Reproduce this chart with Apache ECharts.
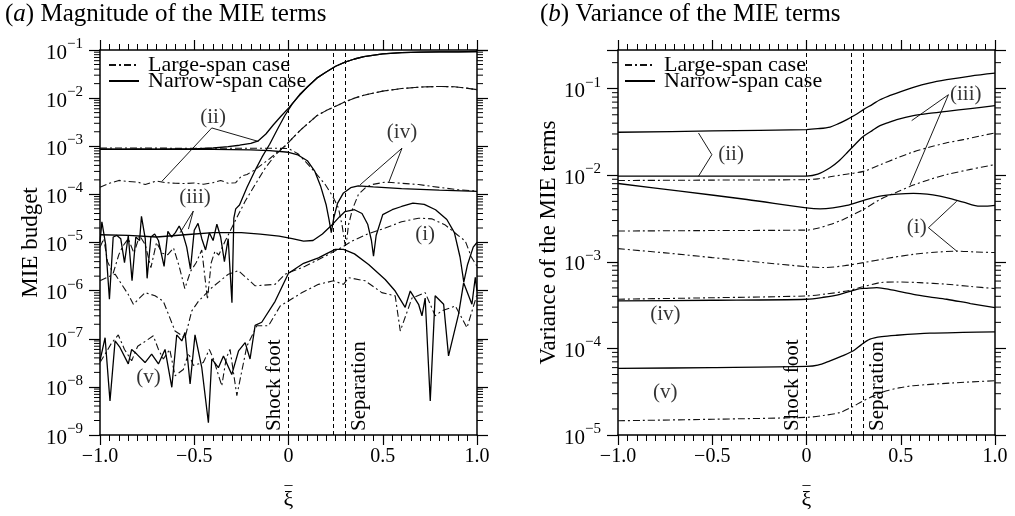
<!DOCTYPE html>
<html><head><meta charset="utf-8">
<script src="https://cdn.jsdelivr.net/npm/echarts@6/dist/echarts.min.js"></script>
<style>html,body{margin:0;padding:0;background:#fff}#c{width:1015px;height:516px}</style>
</head><body><div id="c"></div><script>
// ---------- tick labels / markers ----------
const xTickValues = [-1, -0.5, 0, 0.5, 1];
const xTickText = ['\u22121.0', '\u22120.5', '0', '0.5', '1.0'];
const markerX = [0, 0.24, 0.3];
const markerText = ['Shock foot', '', 'Separation'];
const legendNames = ['Large-span case', 'Narrow-span case'];

// ---------- (a) magnitude, narrow-span (solid) ----------
const magNarrowII = [[-1,8.8e-4],[-0.9,8.7e-4],[-0.8,8.8e-4],[-0.7,8.7e-4],[-0.6,8.8e-4],[-0.5,8.8e-4],[-0.4,9.2e-4],[-0.32,9.8e-4],[-0.26,1.05e-3],[-0.2,1.15e-3],[-0.16,1.3e-3],[-0.12,1.8e-3],[-0.08,2.8e-3],[-0.04,4.2e-3],[0,6.2e-3],[0.05,1.05e-2],[0.1,1.7e-2],[0.15,2.6e-2],[0.2,3.5e-2],[0.25,4.6e-2],[0.3,5.6e-2],[0.35,6.5e-2],[0.4,7.3e-2],[0.5,8.3e-2],[0.6,8.8e-2],[0.7,9.0e-2],[0.8,9.1e-2],[0.9,9.15e-2],[1,9.3e-2]];
const magNarrowIII = [[-1,1.0e-5],[-0.99,2.7e-5],[-0.97,9e-6],[-0.95,6.6e-7],[-0.93,1.3e-5],[-0.91,1.4e-5],[-0.89,1.2e-5],[-0.87,3.8e-6],[-0.85,1.4e-5],[-0.83,1.6e-6],[-0.81,1.3e-5],[-0.79,1.1e-5],[-0.78,3.5e-5],[-0.76,1.2e-5],[-0.75,1.8e-6],[-0.73,1.3e-5],[-0.71,1.5e-5],[-0.69,1.1e-5],[-0.66,3.2e-6],[-0.64,1.7e-5],[-0.62,1.3e-5],[-0.6,1.6e-5],[-0.58,2.2e-5],[-0.56,1.5e-5],[-0.54,8e-6],[-0.52,2.8e-6],[-0.5,1.8e-5],[-0.48,2.5e-5],[-0.46,1.2e-5],[-0.44,7e-6],[-0.42,1.6e-5],[-0.4,1.1e-5],[-0.38,2.4e-5],[-0.36,1.3e-5],[-0.34,4e-6],[-0.32,1.2e-5],[-0.3,5.6e-7],[-0.29,3.2e-5],[-0.28,5e-5],[-0.26,6e-5],[-0.22,1.4e-4],[-0.18,3e-4],[-0.14,6e-4],[-0.1,1.1e-3],[-0.06,2.2e-3],[-0.02,4.3e-3],[0.02,7.6e-3],[0.06,1.2e-2],[0.1,1.7e-2],[0.15,2.6e-2],[0.2,3.5e-2],[0.25,4.6e-2],[0.3,5.6e-2],[0.35,6.5e-2],[0.4,7.3e-2],[0.5,8.3e-2],[0.6,8.8e-2],[0.7,9.0e-2],[0.8,9.1e-2],[0.9,9.15e-2],[1,9.3e-2]];
const magNarrowIV = [[-1,8.6e-4],[-0.8,8.6e-4],[-0.6,8.6e-4],[-0.4,8.6e-4],[-0.2,8.4e-4],[-0.1,8.1e-4],[0,7.5e-4],[0.05,6.6e-4],[0.1,5e-4],[0.14,3e-4],[0.17,1.5e-4],[0.2,6e-5],[0.215,3e-5],[0.227,1.6e-5],[0.24,3.2e-5],[0.26,6.5e-5],[0.29,1.05e-4],[0.33,1.38e-4],[0.37,1.5e-4],[0.45,1.43e-4],[0.6,1.32e-4],[0.8,1.22e-4],[1,1.15e-4]];
const magNarrowI = [[-1,1.45e-5],[-0.85,1.4e-5],[-0.7,1.3e-5],[-0.55,1.45e-5],[-0.4,1.6e-5],[-0.25,1.6e-5],[-0.15,1.5e-5],[-0.05,1.35e-5],[0.02,1.2e-5],[0.08,1.07e-5],[0.13,1.1e-5],[0.18,1.5e-5],[0.23,2.3e-5],[0.27,3.4e-5],[0.3,4.4e-5],[0.35,4.8e-5],[0.39,4e-5],[0.42,2.4e-5],[0.44,1.1e-5],[0.451,5.2e-6],[0.465,1.4e-5],[0.5,3.8e-5],[0.55,4.8e-5],[0.6,5.6e-5],[0.66,6.6e-5],[0.72,6.2e-5],[0.78,4.8e-5],[0.84,3e-5],[0.88,1.6e-5],[0.91,5e-6],[0.93,1.5e-6],[0.95,3.5e-6],[0.98,8e-6],[1,1e-5]];
const magNarrowV = [[-1,3.5e-8],[-0.973,1.05e-7],[-0.947,5.1e-9],[-0.92,9e-8],[-0.894,6.6e-8],[-0.85,3e-8],[-0.832,6e-8],[-0.805,4.8e-8],[-0.761,3.2e-8],[-0.726,4.8e-8],[-0.69,3e-8],[-0.655,6e-8],[-0.619,9.8e-9],[-0.593,1.2e-7],[-0.566,9e-8],[-0.549,1.35e-7],[-0.522,1.15e-8],[-0.496,1.2e-7],[-0.46,2.5e-8],[-0.425,1.8e-9],[-0.407,3.8e-8],[-0.372,2.5e-8],[-0.345,4.4e-8],[-0.301,1.8e-8],[-0.265,5.6e-8],[-0.23,8.3e-8],[-0.204,3.8e-8],[-0.177,1.9e-7],[-0.142,2.2e-7],[-0.071,6e-7],[0,2.3e-6],[0.08,3.7e-6],[0.159,4.8e-6],[0.2,5.8e-6],[0.248,7.2e-6],[0.292,7.2e-6],[0.35,5.8e-6],[0.425,3.5e-6],[0.513,1.7e-6],[0.566,9.8e-7],[0.619,4.5e-7],[0.646,9.8e-7],[0.69,5.2e-7],[0.708,3e-7],[0.725,7e-7],[0.752,5.1e-9],[0.778,7.8e-7],[0.823,5.2e-7],[0.849,4.4e-8],[0.902,3.2e-7],[0.929,1.45e-6],[0.973,5.2e-7],[0.991,1.9e-6],[1,9.8e-7]];

// ---------- (a) magnitude, large-span (dash-dot) ----------
const magLargeII = [[-1,1.4e-4],[-0.95,1.7e-4],[-0.9,1.95e-4],[-0.85,1.85e-4],[-0.8,1.8e-4],[-0.76,1.6e-4],[-0.7,1.9e-4],[-0.65,1.75e-4],[-0.6,1.7e-4],[-0.55,1.68e-4],[-0.5,1.72e-4],[-0.45,1.62e-4],[-0.4,1.75e-4],[-0.36,1.95e-4],[-0.32,1.7e-4],[-0.28,1.75e-4],[-0.25,2.4e-4],[-0.22,2.6e-4],[-0.18,3.2e-4],[-0.14,4.2e-4],[-0.1,5.5e-4],[-0.06,7.5e-4],[-0.02,1.0e-3],[0.02,1.45e-3],[0.06,2.1e-3],[0.1,2.9e-3],[0.15,4.3e-3],[0.2,5.5e-3],[0.25,6.8e-3],[0.3,8.4e-3],[0.35,1.0e-2],[0.4,1.15e-2],[0.5,1.4e-2],[0.6,1.58e-2],[0.7,1.7e-2],[0.8,1.75e-2],[0.88,1.72e-2],[0.94,1.62e-2],[1,1.5e-2]];
const magLargeIII = [[-1,8e-6],[-0.98,1.2e-5],[-0.96,4e-6],[-0.93,2.3e-6],[-0.9,5.6e-6],[-0.88,8.3e-6],[-0.85,1.2e-5],[-0.82,6e-6],[-0.79,1.4e-5],[-0.76,9e-6],[-0.73,3e-6],[-0.7,1e-5],[-0.67,6e-6],[-0.64,5.6e-6],[-0.61,7.7e-6],[-0.58,3.2e-6],[-0.55,1.1e-6],[-0.52,2.5e-6],[-0.49,3.8e-6],[-0.46,7e-6],[-0.43,6.6e-7],[-0.41,3.8e-6],[-0.39,6.6e-6],[-0.37,5.5e-6],[-0.336,1.07e-5],[-0.283,2.8e-5],[-0.23,7.2e-5],[-0.177,1.6e-4],[-0.124,3.5e-4],[-0.07,6.6e-4],[-0.02,1.0e-3],[0.02,1.45e-3],[0.06,2.1e-3],[0.1,2.9e-3],[0.15,4.3e-3],[0.2,5.5e-3],[0.25,6.8e-3],[0.3,8.4e-3],[0.35,1.0e-2],[0.4,1.15e-2],[0.5,1.4e-2],[0.6,1.58e-2],[0.7,1.7e-2],[0.8,1.75e-2],[0.88,1.72e-2],[0.94,1.62e-2],[1,1.5e-2]];
const magLargeIV = [[-1,9.2e-4],[-0.8,9.2e-4],[-0.6,9.1e-4],[-0.4,9.1e-4],[-0.2,9.1e-4],[-0.1,9.1e-4],[0,9e-4],[0.05,7e-4],[0.088,4.9e-4],[0.14,2.9e-4],[0.195,1.6e-4],[0.235,9e-5],[0.265,5.2e-5],[0.285,2.2e-5],[0.3,9e-6],[0.31,1.2e-5],[0.318,2.3e-5],[0.34,5e-5],[0.371,1e-4],[0.41,1.4e-4],[0.443,1.6e-4],[0.513,1.8e-4],[0.6,1.7e-4],[0.69,1.6e-4],[0.8,1.4e-4],[0.9,1.25e-4],[1,1.17e-4]];
const magLargeI = [[-1,1.6e-6],[-0.96,1.9e-6],[-0.92,2.2e-6],[-0.85,8.3e-7],[-0.823,5.2e-7],[-0.761,9.1e-7],[-0.708,7.8e-7],[-0.664,6e-7],[-0.602,1.45e-7],[-0.549,1.05e-7],[-0.513,3.8e-7],[-0.478,6e-7],[-0.407,1.15e-6],[-0.319,2.2e-6],[-0.266,2.6e-6],[-0.177,1.26e-6],[-0.071,1.35e-6],[-0.018,2.2e-6],[0.088,3.2e-6],[0.195,5.2e-6],[0.292,8.3e-6],[0.336,1.07e-5],[0.42,1.5e-5],[0.513,2e-5],[0.6,2.7e-5],[0.69,3.2e-5],[0.76,3.1e-5],[0.832,2.3e-5],[0.9,1.4e-5],[0.938,1.07e-5],[0.97,5e-6],[1,3.2e-6]];
const magLargeV = [[-1,3.2e-8],[-0.97,5e-8],[-0.94,8e-8],[-0.903,1.2e-7],[-0.87,6e-8],[-0.832,3.5e-8],[-0.8,7e-8],[-0.77,8.3e-8],[-0.717,1.15e-7],[-0.69,6e-8],[-0.664,3.8e-8],[-0.63,6e-8],[-0.602,1.7e-8],[-0.558,2.3e-8],[-0.53,5e-8],[-0.505,2.8e-8],[-0.452,3.2e-8],[-0.42,6e-8],[-0.398,3.8e-8],[-0.354,1.05e-8],[-0.33,4e-8],[-0.31,6e-8],[-0.274,6.6e-9],[-0.221,7e-8],[-0.168,1.86e-7],[-0.106,1.86e-7],[-0.044,4.8e-7],[0.07,9e-7],[0.159,1.35e-6],[0.239,1.6e-6],[0.292,1.35e-6],[0.318,1.86e-6],[0.407,1.6e-6],[0.495,9.1e-7],[0.566,7.8e-7],[0.593,1.45e-7],[0.655,7e-7],[0.725,9.1e-7],[0.778,3e-7],[0.814,3.8e-7],[0.885,4.8e-7],[0.947,1.7e-7],[1,8.3e-7]];

// ---------- (b) variance ----------
const varNarrowII = [[-1,3.14e-2],[-0.5,3.25e-2],[0,3.37e-2],[0.06,3.45e-2],[0.125,3.61e-2],[0.17,3.95e-2],[0.214,4.4e-2],[0.26,5.0e-2],[0.302,5.73e-2],[0.35,6.6e-2],[0.39,7.46e-2],[0.44,8.3e-2],[0.479,8.91e-2],[0.567,0.1035],[0.65,0.116],[0.744,0.127],[0.87,0.14],[1,0.151]];
const varNarrowIII = [[-1,9.8e-3],[-0.5,9.8e-3],[0,9.8e-3],[0.06,1.03e-2],[0.125,1.22e-2],[0.17,1.45e-2],[0.214,1.81e-2],[0.26,2.3e-2],[0.302,2.82e-2],[0.35,3.3e-2],[0.39,3.74e-2],[0.44,4.1e-2],[0.479,4.4e-2],[0.567,4.89e-2],[0.65,5.2e-2],[0.744,5.48e-2],[0.87,5.9e-2],[1,6.37e-2]];
const varNarrowI = [[-1,8.04e-3],[-0.67,6.56e-3],[-0.316,5.25e-3],[0,4.21e-3],[0.072,4.1e-3],[0.14,4.2e-3],[0.214,4.48e-3],[0.3,5.1e-3],[0.39,5.74e-3],[0.48,6.05e-3],[0.567,6.17e-3],[0.64,6.05e-3],[0.708,5.74e-3],[0.77,5.35e-3],[0.832,4.9e-3],[0.92,4.4e-3],[0.96,4.4e-3],[1,4.48e-3]];
const varNarrowIV = [[-1,3.54e-4],[-0.5,3.6e-4],[0,3.7e-4],[0.09,3.9e-4],[0.178,4.22e-4],[0.267,4.82e-4],[0.32,4.95e-4],[0.373,5.04e-4],[0.45,4.75e-4],[0.567,4.22e-4],[0.65,3.95e-4],[0.744,3.7e-4],[0.87,3.3e-4],[1,2.96e-4]];
const varNarrowV = [[-1,5.87e-5],[-0.5,6.0e-5],[0,6.19e-5],[0.06,6.4e-5],[0.125,7.19e-5],[0.19,8.2e-5],[0.249,9.4e-5],[0.29,1.1e-4],[0.337,1.28e-4],[0.4,1.37e-4],[0.479,1.42e-4],[0.655,1.5e-4],[0.83,1.53e-4],[1,1.55e-4]];
const varLargeII = [[-1,8.7e-3],[-0.5,8.8e-3],[0,8.9e-3],[0.06,9.1e-3],[0.125,9.6e-3],[0.2,1.02e-2],[0.302,1.11e-2],[0.39,1.32e-2],[0.479,1.58e-2],[0.56,1.84e-2],[0.655,2.12e-2],[0.74,2.36e-2],[0.832,2.58e-2],[0.92,2.84e-2],[1,3.08e-2]];
const varLargeIII = [[-1,2.27e-3],[-0.5,2.3e-3],[0,2.33e-3],[0.06,2.45e-3],[0.125,2.7e-3],[0.19,3.05e-3],[0.249,3.52e-3],[0.302,4.03e-3],[0.39,5.25e-3],[0.48,6.4e-3],[0.567,7.7e-3],[0.65,8.9e-3],[0.744,1.02e-2],[0.87,1.17e-2],[1,1.33e-2]];
const varLargeI = [[-1,1.42e-3],[-0.75,1.27e-3],[-0.5,1.12e-3],[-0.25,9.9e-4],[0,8.8e-4],[0.09,8.6e-4],[0.2,9.0e-4],[0.302,9.8e-4],[0.43,1.1e-3],[0.567,1.22e-3],[0.68,1.29e-3],[0.797,1.33e-3],[0.9,1.3e-3],[1,1.28e-3]];
const varLargeIV = [[-1,3.7e-4],[-0.5,3.85e-4],[0,4.04e-4],[0.1,4.25e-4],[0.214,4.61e-4],[0.3,5.15e-4],[0.39,5.75e-4],[0.479,5.86e-4],[0.6,5.75e-4],[0.744,5.51e-4],[0.87,5.2e-4],[1,4.91e-4]];
const varLargeV = [[-1,1.46e-5],[-0.5,1.52e-5],[0,1.6e-5],[0.09,1.68e-5],[0.178,1.82e-5],[0.24,2.1e-5],[0.302,2.49e-5],[0.36,2.85e-5],[0.426,3.24e-5],[0.49,3.5e-5],[0.567,3.71e-5],[0.78,4.0e-5],[1,4.23e-5]];

// ---------- annotations (label text, position in data units) ----------
const magNotes = [{t:'(ii)', x:-0.40, y:3.9e-3},{t:'(iii)', x:-0.496, y:8.5e-5},{t:'(iv)', x:0.602, y:1.9e-3},{t:'(i)', x:0.725, y:1.45e-5},{t:'(v)', x:-0.743, y:1.6e-8}];
const magLeaders = [
  [[-0.672,1.86e-4],[-0.407,2.4e-3],[-0.16,1.26e-3]],
  [[-0.575,1.6e-5],[-0.505,4.5e-5],[-0.531,1.9e-5]],
  [[0.38,1.58e-4],[0.602,9.1e-4],[0.531,1.74e-4]]
];
const varNotes = [{t:'(ii)', x:-0.40, y:1.73e-2},{t:'(iii)', x:0.845, y:8.5e-2},{t:'(i)', x:0.585, y:2.48e-3},{t:'(iv)', x:-0.749, y:2.48e-4},{t:'(v)', x:-0.749, y:3.1e-5}];
const varLeaders = [
  [[-0.573,3.08e-2],[-0.502,1.73e-2],[-0.573,9.75e-3]],
  [[0.558,4.28e-2],[0.753,8.53e-2],[0.549,7.7e-3]],
  [[0.797,5.02e-3],[0.647,2.48e-3],[0.797,1.33e-3]]
];

// ---------- styling ----------
const FONT = "'Liberation Serif','Times New Roman',serif";
const DASHDOT = [7, 3, 2, 3];

function curve(name, data, panel, dashed) {
  return {
    type: 'line', name: name, data: data,
    xAxisIndex: panel * 2, yAxisIndex: panel * 2,
    symbol: 'none', showSymbol: false, silent: true,
    smooth: panel === 1 ? 0.3 : false,
    itemStyle: { color: dashed ? '#111' : '#000' },
    lineStyle: { color: dashed ? '#111' : '#000', width: dashed ? 1.1 : 1.3, type: dashed ? DASHDOT : 'solid' },
    z: 3
  };
}
function markerSeries(panel) {
  return {
    type: 'line', data: [], xAxisIndex: panel * 2, yAxisIndex: panel * 2, silent: true,
    markLine: {
      symbol: 'none', silent: true, animation: false,
      lineStyle: { type: [4, 3], color: '#000', width: 1 },
      data: markerX.map((x, i) => ({
        xAxis: x,
        label: {
          show: markerText[i] !== '', formatter: markerText[i],
          position: i === 0 ? 'insideStartTop' : 'insideStartBottom',
          fontFamily: FONT, fontSize: 21, color: '#000', distance: [4, 4]
        }
      }))
    }
  };
}
function notesSeries(notes, panel) {
  return {
    type: 'scatter', xAxisIndex: panel * 2, yAxisIndex: panel * 2, silent: true,
    symbolSize: 0,
    data: notes.map(n => ({ name: n.t, value: [n.x, n.y] })),
    label: { show: true, position: 'inside', formatter: '{b}', fontFamily: FONT, fontSize: 21, color: '#000' },
    z: 5
  };
}
function leaderSeries(leaders, panel) {
  return {
    type: 'lines', coordinateSystem: 'cartesian2d', polyline: true,
    xAxisIndex: panel * 2, yAxisIndex: panel * 2, silent: true,
    data: leaders.map(c => ({ coords: c })),
    lineStyle: { color: '#000', width: 0.9, opacity: 1 },
    z: 4
  };
}
function minorTicks(minExp, maxVal, panel) {
  const vals = [];
  for (let e = minExp; ; e++) {
    let done = false;
    for (let k = 2; k <= 9; k++) {
      const v = k * Math.pow(10, e);
      if (v >= maxVal) { done = true; break; }
      vals.push([-1, v]);
    }
    if (done) break;
  }
  return {
    type: 'custom', xAxisIndex: panel * 2, yAxisIndex: panel * 2, silent: true, clip: false,
    data: vals,
    renderItem: function (params, api) {
      const v = api.value(1);
      const a = api.coord([-1, v]);
      const b = api.coord([1, v]);
      return { type: 'group', children: [
        { type: 'line', shape: { x1: a[0] - 6, y1: a[1], x2: a[0], y2: a[1] }, style: { stroke: '#000', lineWidth: 1 } },
        { type: 'line', shape: { x1: b[0], y1: b[1], x2: b[0] + 6, y2: b[1] }, style: { stroke: '#000', lineWidth: 1 } }
      ]};
    }
  };
}
function xAx(grid, pos) {
  const bottom = pos === 'bottom';
  return {
    type: 'value', gridIndex: grid, position: pos, min: -1, max: 1, interval: 0.5,
    axisLine: { show: true, onZero: false, lineStyle: { color: '#000', width: 1.5 } },
    axisTick: { show: true, inside: false, length: 10, lineStyle: { color: '#000', width: 1.2 } },
    minorTick: { show: true, splitNumber: 10, length: 6, lineStyle: { color: '#000', width: 1 } },
    splitLine: { show: false }, minorSplitLine: { show: false },
    axisLabel: { show: bottom, margin: 12, fontFamily: FONT, fontSize: 20, color: '#000',
      formatter: v => { const i = xTickValues.findIndex(t => Math.abs(t - v) < 1e-9); return i < 0 ? '' : xTickText[i]; } },
    name: bottom ? '{bar|\u2013}\n{xi|\u03be}' : '',
    nameLocation: 'middle', nameGap: 46,
    nameTextStyle: { fontFamily: FONT, color: '#000', align: 'center',
      rich: { bar: { fontSize: 16, lineHeight: 8, fontFamily: FONT, align: 'center' }, xi: { fontSize: 22, lineHeight: 22, fontFamily: FONT, align: 'center' } } }
  };
}
function yFmt(v) {
  const l = Math.log10(v);
  const e = Math.round(l);
  if (Math.abs(l - e) > 1e-6) return '';
  return '{b|10}{s|' + (e < 0 ? '\u2212' + (-e) : e) + '}';
}
function yAx(grid, pos, min, max, name, gap) {
  const left = pos === 'left';
  return {
    type: 'log', logBase: 10, gridIndex: grid, position: pos, min: min, max: max,
    axisLine: { show: true, onZero: false, lineStyle: { color: '#000', width: 1.5 } },
    axisTick: { show: true, inside: false, length: 11, lineStyle: { color: '#000', width: 1.2 } },
    minorTick: { show: false }, splitLine: { show: false }, minorSplitLine: { show: false },
    axisLabel: { show: left, margin: 17, formatter: yFmt, color: '#000',
      rich: { b: { fontFamily: FONT, fontSize: 21, lineHeight: 27, verticalAlign: 'bottom' },
              s: { fontFamily: FONT, fontSize: 15, lineHeight: 15, verticalAlign: 'top' } } },
    name: left ? name : '', nameLocation: 'middle', nameGap: gap,
    nameTextStyle: { fontFamily: FONT, fontSize: 23, color: '#000' }
  };
}

const chart = echarts.init(document.getElementById('c'), null, { renderer: 'canvas' });
const legendBase = {
  data: legendNames, orient: 'vertical', itemWidth: 30, itemHeight: 12, itemGap: -6, padding: 0,
  selectedMode: false,
  itemStyle: { opacity: 0 },
  lineStyle: { opacity: 1 },
  textStyle: { fontFamily: FONT, fontSize: 22, color: '#000', lineHeight: 16, padding: [0, 0, 0, 4] }
};
chart.setOption({
  animation: false,
  backgroundColor: '#fff',
  title: [
    { text: '({i|a}) Magnitude of the MIE terms', left: 5, top: 2, padding: 0,
      textStyle: { fontFamily: FONT, fontSize: 25, fontWeight: 'normal', color: '#000',
        rich: { i: { fontFamily: FONT, fontSize: 25, fontStyle: 'italic', color: '#000' } } } },
    { text: '({i|b}) Variance of the MIE terms', left: 540, top: 2, padding: 0,
      textStyle: { fontFamily: FONT, fontSize: 25, fontWeight: 'normal', color: '#000',
        rich: { i: { fontFamily: FONT, fontSize: 25, fontStyle: 'italic', color: '#000' } } } }
  ],
  legend: [
    Object.assign({}, legendBase, { left: 108, top: 54 }),
    Object.assign({}, legendBase, { left: 624, top: 54 })
  ],
  grid: [
    { left: 100, right: 538, top: 50, bottom: 80 },
    { left: 618, right: 20, top: 50, bottom: 80 }
  ],
  xAxis: [xAx(0, 'bottom'), xAx(0, 'top'), xAx(1, 'bottom'), xAx(1, 'top')],
  yAxis: [
    yAx(0, 'left', 1e-9, 1e-1, 'MIE budget', 56),
    yAx(0, 'right', 1e-9, 1e-1, '', 0),
    yAx(1, 'left', 1e-5, 0.28, 'Variance of the MIE terms', 58),
    yAx(1, 'right', 1e-5, 0.28, '', 0)
  ],
  series: [
    markerSeries(0), markerSeries(1),
    curve(legendNames[0], magLargeII, 0, true),
    curve(legendNames[0], magLargeIII, 0, true),
    curve(legendNames[0], magLargeIV, 0, true),
    curve(legendNames[0], magLargeI, 0, true),
    curve(legendNames[0], magLargeV, 0, true),
    curve(legendNames[1], magNarrowII, 0, false),
    curve(legendNames[1], magNarrowIII, 0, false),
    curve(legendNames[1], magNarrowIV, 0, false),
    curve(legendNames[1], magNarrowI, 0, false),
    curve(legendNames[1], magNarrowV, 0, false),
    curve(legendNames[0], varLargeII, 1, true),
    curve(legendNames[0], varLargeIII, 1, true),
    curve(legendNames[0], varLargeI, 1, true),
    curve(legendNames[0], varLargeIV, 1, true),
    curve(legendNames[0], varLargeV, 1, true),
    curve(legendNames[1], varNarrowII, 1, false),
    curve(legendNames[1], varNarrowIII, 1, false),
    curve(legendNames[1], varNarrowI, 1, false),
    curve(legendNames[1], varNarrowIV, 1, false),
    curve(legendNames[1], varNarrowV, 1, false),
    notesSeries(magNotes, 0), notesSeries(varNotes, 1),
    leaderSeries(magLeaders, 0), leaderSeries(varLeaders, 1),
    minorTicks(-9, 0.1, 0), minorTicks(-5, 0.28, 1)
  ]
});
</script></body></html>
